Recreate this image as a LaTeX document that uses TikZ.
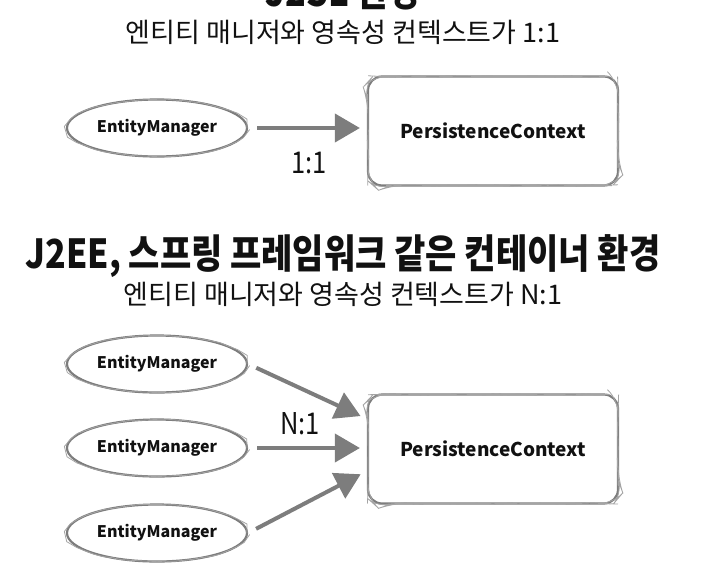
\documentclass[tikz,border=0pt]{standalone}
\usepackage{fontspec}
\usetikzlibrary{decorations.pathmorphing,arrows.meta,shapes.geometric}
\newfontfamily\krt[FakeStretch=0.85]{Noto Sans CJK KR}
\newfontfamily\krs{Noto Sans CJK KR}
\newfontfamily\krl[FakeStretch=0.85]{Noto Sans CJK KR}
\newfontfamily\krn{Noto Sans CJK KR}
\definecolor{skgray}{RGB}{125,125,125}
\definecolor{ink}{RGB}{17,17,17}
\begin{document}
\begin{tikzpicture}[x=1pt,y=-1pt,
  sk/.style={draw=skgray, line width=2.2pt,
    postaction={draw=skgray!70, line width=0.8pt, decorate,
      decoration={random steps, segment length=9pt, amplitude=0.5pt}}},
  emgr/.style={ellipse, sk, minimum width=180pt, minimum height=57pt, inner sep=0pt,
    text=ink, font=\krn\bfseries\fontsize{16}{18}\selectfont},
  pcbox/.style={rectangle, rounded corners=14pt, sk, minimum width=250pt, minimum height=109pt,
    text=ink, font=\krn\bfseries\fontsize{19}{22}\selectfont},
  conn/.style={draw=skgray, line width=4pt, -{Triangle[length=25pt,width=28pt]},
    shorten <=9pt, shorten >=7pt},
  ttl/.style={anchor=base, text=ink, font=\krt\bfseries\fontsize{40}{44}\selectfont},
  sub/.style={anchor=base, text=ink, font=\krs\fontsize{27}{30}\selectfont},
  rel/.style={anchor=base, text=ink, font=\krl\fontsize{30}{32}\selectfont}]
\pgfmathsetseed{7}
\useasboundingbox (0,0) rectangle (725,571);
\clip (0,0) rectangle (725,571);
% top section
\node[ttl] (t1) at (343,6) {J2SE 환경};
\node[sub] (s1) at (343,42) {엔티티 매니저와 영속성 컨텍스트가 1:1};
\node[emgr] (e0) at (157,128) {EntityManager};
\node[pcbox] (p1) at (493,131) {PersistenceContext};
\draw[conn] (e0.east) -- (p1.west |- e0.east);
\node[rel] (r1) at (309,173) {1:1};
% bottom section
\node[ttl] (t2) at (343,268) {J2EE, 스프링 프레임워크 같은 컨테이너 환경};
\node[sub] (s2) at (343,304) {엔티티 매니저와 영속성 컨텍스트가 N:1};
\node[emgr] (e1) at (157,364) {EntityManager};
\node[emgr] (e2) at (157,448) {EntityManager};
\node[emgr] (e3) at (157,533) {EntityManager};
\node[pcbox] (p2) at (493,449) {PersistenceContext};
\coordinate (ta) at ([yshift=30pt]p2.west);
\coordinate (tc) at ([yshift=-22pt]p2.west);
\draw[conn] (e1.east) -- (ta);
\draw[conn] (e2.east) -- (e2.east -| p2.west);
\draw[conn] (e3.east) -- (tc);
\node[rel] (r2) at (300,434) {N:1};
\end{tikzpicture}
\end{document}
